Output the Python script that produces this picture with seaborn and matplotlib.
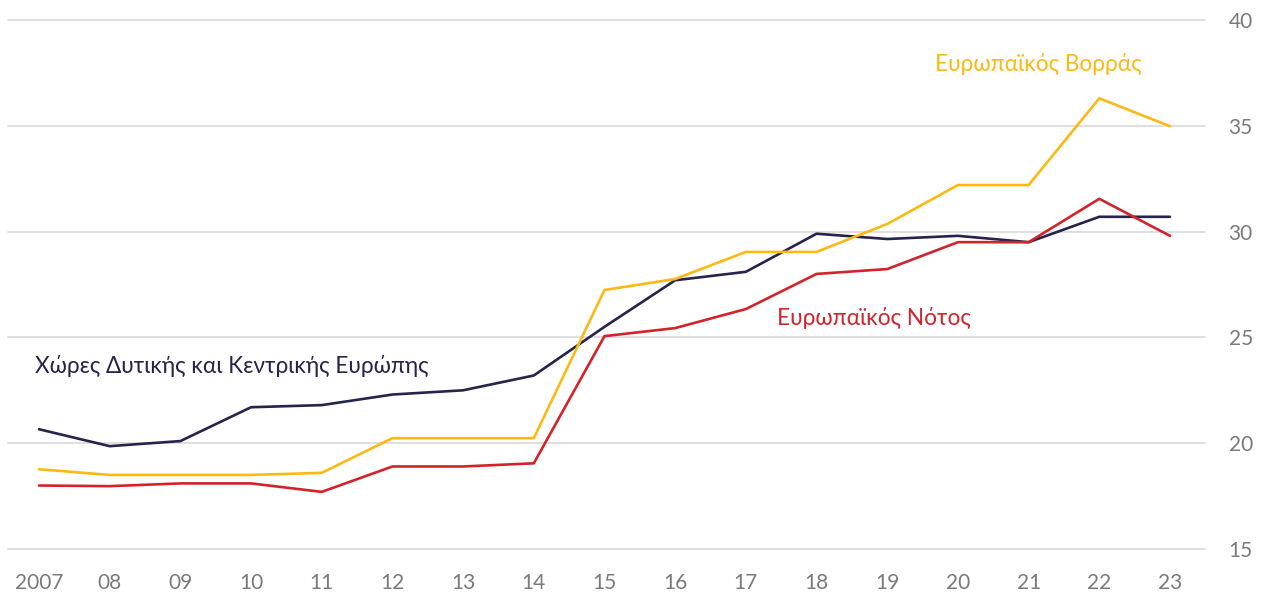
import matplotlib
matplotlib.use("Agg")
import matplotlib.pyplot as plt
import seaborn as sns
import pandas as pd

years = list(range(2007, 2024))
tick_labels = ["2007", "08", "09", "10", "11", "12", "13", "14", "15", "16",
               "17", "18", "19", "20", "21", "22", "23"]
west_central = [20.66, 19.86, 20.1, 21.7, 21.8, 22.3, 22.5, 23.2, 25.5, 27.7,
                28.1, 29.9, 29.65, 29.8, 29.5, 30.7, 30.7]
north = [18.77, 18.5, 18.5, 18.5, 18.6, 20.24, 20.24, 20.24, 27.24, 27.76,
         29.04, 29.04, 30.36, 32.2, 32.2, 36.3, 34.98]
south = [18.0, 17.97, 18.1, 18.1, 17.7, 18.9, 18.9, 19.05, 25.06, 25.44,
         26.34, 28.0, 28.23, 29.5, 29.5, 31.55, 29.8]
series_names = ["Χώρες Δυτικής και Κεντρικής Ευρώπης", "Ευρωπαϊκός Βορράς", "Ευρωπαϊκός Νότος"]
y_ticks = [15, 20, 25, 30, 35, 40]

colors = {series_names[0]: "#26234D", series_names[1]: "#FDB913", series_names[2]: "#D2232A"}

df = pd.concat([
    pd.DataFrame({"year": years, "value": vals, "series": name})
    for name, vals in zip(series_names, [west_central, north, south])
])

sns.set_theme(style="white")
plt.rcParams["font.family"] = ["Lato", "DejaVu Sans"]

fig = plt.figure(figsize=(12.7, 5.94), dpi=100)
ax = fig.add_axes([8/1270, 1 - 549/594, (1205 - 8)/1270, (549 - 20)/594])

sns.lineplot(data=df, x="year", y="value", hue="series", palette=colors,
             linewidth=1.9, legend=False, ax=ax, zorder=3)

x0 = 2007 - 31/70.69
x1 = 2023 + 35/70.69
ax.set_xlim(x0, x1)
ax.set_ylim(15, 40)
for v in y_ticks:
    ax.axhline(v, color="#DCDCDC", linewidth=1.3, zorder=1, clip_on=False)

for s in ax.spines.values():
    s.set_visible(False)
ax.set_xlabel("")
ax.set_ylabel("")
ax.set_xticks(years)
ax.set_xticklabels(tick_labels)
ax.set_yticks(y_ticks)
ax.set_yticklabels([str(v) for v in y_ticks])
ax.yaxis.tick_right()
ax.tick_params(axis="y", length=0, pad=17, labelsize=15, labelcolor="#7A7A7A")
ax.tick_params(axis="x", length=0, pad=17, labelsize=15, labelcolor="#7A7A7A")

ax.text(2019.68, 37.93, series_names[1], color="#FDB913", fontsize=16.3,
        ha="left", va="center")
ax.text(2017.44, 25.91, series_names[2], color="#D2232A", fontsize=16.3,
        ha="left", va="center")
ax.text(2006.94, 23.64, series_names[0], color="#26234D", fontsize=16.3,
        ha="left", va="center")

fig.savefig("out.png", dpi=100)
